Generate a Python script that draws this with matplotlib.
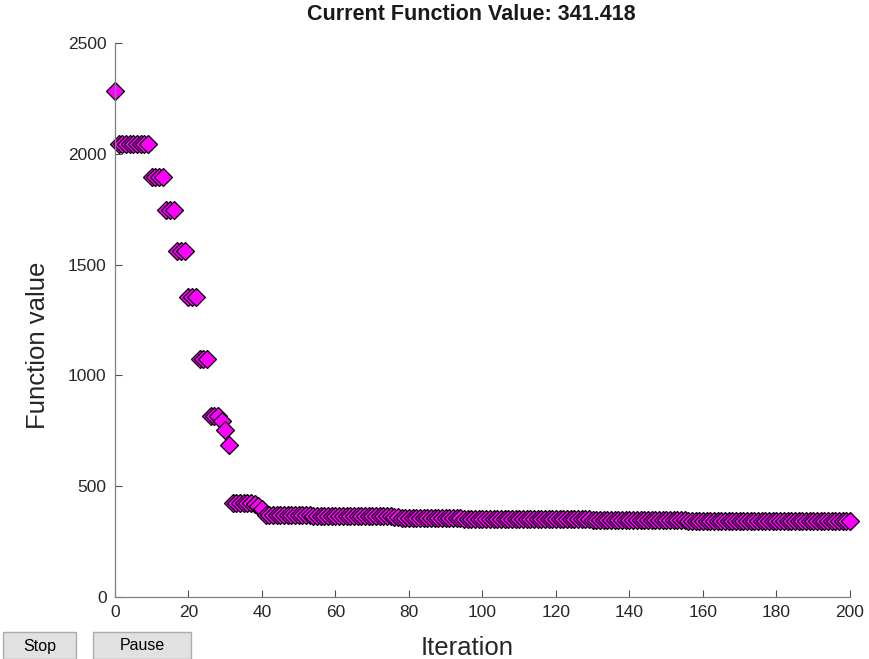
"""Optimizer progress plot: function value per iteration (optimplotfval style)."""

import matplotlib

matplotlib.use("Agg")
import matplotlib.pyplot as plt
from matplotlib.patches import Rectangle

plt.rcParams["font.family"] = ["Liberation Sans", "DejaVu Sans"]

# Function value at each iteration 0..200.
fval_head = [
    2285,
    2045, 2045, 2045, 2045, 2045, 2045, 2045, 2045, 2045,
    1895, 1895, 1895, 1895,
    1745, 1745, 1745,
    1560, 1560, 1560,
    1355, 1355, 1355,
    1075, 1075, 1075,
    818, 818, 818,
    795, 752, 686,
    425, 425, 425, 425, 425, 425,
    420, 410, 395,
]
fval_tail = [
    372, 370, 370, 370, 369, 369, 369, 369, 368, 368,
    368, 368, 368, 367, 367, 367, 367, 367, 366, 366,
    366, 366, 366, 366, 365, 365, 365, 365, 365, 365,
    364, 364, 364, 364, 364, 363, 363,
    358, 358, 358, 357, 357, 357, 357, 356, 356, 356,
    356, 356, 355, 355, 355, 355, 355, 354, 354, 354,
    354, 354, 354, 353, 353, 353, 353, 353, 353, 352,
    352, 352, 352, 352, 352, 352, 351, 351, 351, 351,
    351, 351, 351, 351, 350, 350, 350, 350, 350, 350,
    350, 350, 349, 349, 349, 349, 349, 349, 349, 349,
    349, 348, 348, 348, 348, 348, 348, 348, 348, 348,
    348, 348, 348, 348, 348, 348, 348, 348,
    345, 345, 345, 345, 345, 344, 344, 344, 344, 344,
    344, 344, 343, 343, 343, 343, 343, 343, 343, 343,
    343, 342, 342, 342, 342, 342, 342, 342, 342, 342,
    342, 342, 342, 342, 342, 341.5, 341.5, 341.5, 341.5, 341.5,
    341.418, 341.418, 341.418, 341.418, 341.418,
]
fvals = fval_head + fval_tail
iterations = list(range(len(fvals)))
title_text = f"Current Function Value: {fvals[-1]:.3f}"
x_ticks = [0, 20, 40, 60, 80, 100, 120, 140, 160, 180, 200]
y_ticks = [0, 500, 1000, 1500, 2000, 2500]

W, H = 870, 659
fig = plt.figure(figsize=(W / 100, H / 100), dpi=100)
ax = fig.add_axes([115 / W, 1 - 597 / H, 735 / W, 554 / H])

ax.plot(iterations, fvals, linestyle="none", marker="D", markersize=9,
        markerfacecolor="#ff00ff", markeredgecolor="black", markeredgewidth=0.9,
        clip_on=False)

ax.set_xlim(0, 200)
ax.set_ylim(0, 2500)
ax.set_xticks(x_ticks)
ax.set_yticks(y_ticks)
ax.tick_params(direction="in", length=5, width=0.8, colors="#4d4d4d",
               labelcolor="#262626", labelsize=12.5, pad=6)
for side in ("top", "right"):
    ax.spines[side].set_visible(False)
for side in ("left", "bottom"):
    ax.spines[side].set_color("#808080")
    ax.spines[side].set_linewidth(0.9)

# Title and axis labels placed where the reference has them (pixel coords).
fig.text(471 / W, 1 - 15 / H, title_text, ha="center", va="center",
         fontsize=15.5, fontweight="bold", color="#1a1a1a")
ax.set_xlabel("Iteration", fontsize=18.5, color="#262626")
ax.xaxis.set_label_coords((467 - 115) / 735, (597 - 636) / 554)
ax.set_ylabel("Function value", fontsize=18.5, color="#262626")
ax.yaxis.set_label_coords((50 - 115) / 735, (597 - 345) / 554)

# Stop / Pause buttons drawn in figure pixels.
for label, x0, w in (("Stop", 3, 73), ("Pause", 93, 98)):
    fig.patches.append(Rectangle((x0 / W, 0), w / W, 27 / H, transform=fig.transFigure,
                                 facecolor="#e1e1e1", edgecolor="#adadad", linewidth=1))
    fig.text((x0 + w / 2) / W, 13 / H, label, ha="center", va="center", fontsize=11.5)

fig.savefig("out.png", dpi=100)
plt.close(fig)
